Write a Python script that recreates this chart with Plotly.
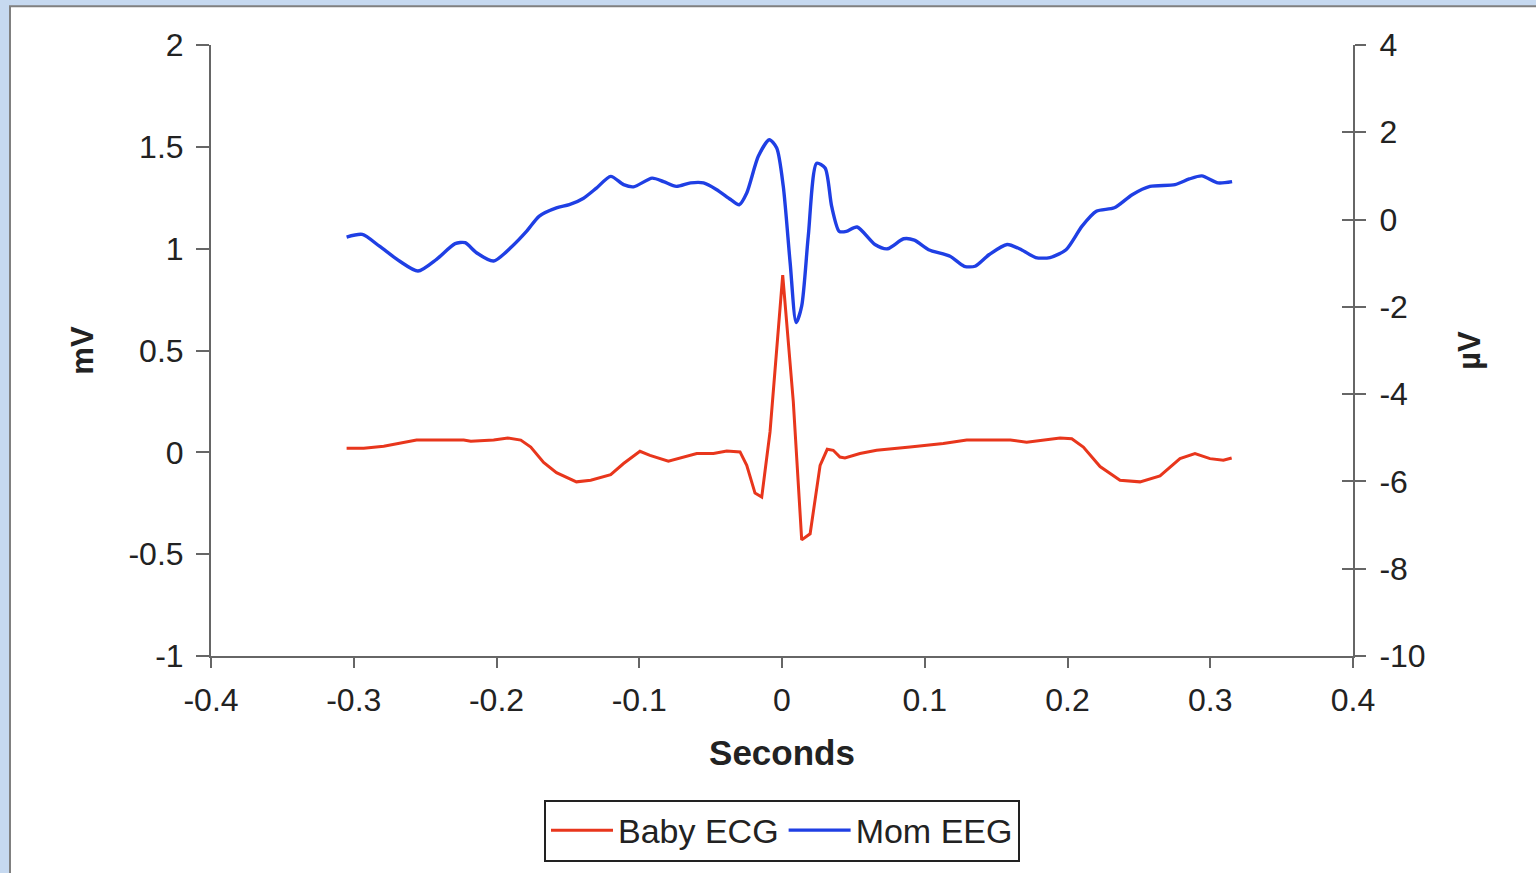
import plotly.graph_objects as go

# ---------------- data ----------------
t_ecg = [-0.305, -0.293, -0.279, -0.256, -0.223, -0.218, -0.202, -0.192, -0.183, -0.176,
         -0.167, -0.158, -0.144, -0.134, -0.120, -0.111, -0.0995, -0.0925, -0.0796, -0.069,
         -0.0597, -0.048, -0.0387, -0.0294, -0.0247, -0.0189, -0.0142, -0.0084, 0.0005, 0.0079,
         0.0138, 0.0197, 0.0267, 0.0317, 0.0359, 0.0406, 0.0441, 0.0546, 0.0663, 0.0897,
         0.113, 0.1294, 0.16, 0.1714, 0.183, 0.1948, 0.203, 0.2111, 0.2228, 0.2368,
         0.2508, 0.2648, 0.2788, 0.2893, 0.2998, 0.3092, 0.315]
baby_ecg = [0.02, 0.02, 0.03, 0.06, 0.06, 0.054, 0.06, 0.07, 0.06, 0.026,
            -0.05, -0.10, -0.145, -0.137, -0.11, -0.055, 0.005, -0.015, -0.044, -0.023,
            -0.006, -0.006, 0.007, 0.002, -0.064, -0.20, -0.22, 0.10, 0.87, 0.25,
            -0.43, -0.40, -0.064, 0.015, 0.01, -0.023, -0.028, -0.006, 0.01, 0.026,
            0.043, 0.06, 0.06, 0.05, 0.06, 0.07, 0.067, 0.026, -0.07, -0.137,
            -0.145, -0.116, -0.031, -0.006, -0.031, -0.039, -0.028]

t_eeg = [-0.305, -0.294, -0.282, -0.268, -0.255, -0.242, -0.229, -0.222, -0.214, -0.202,
         -0.189, -0.179, -0.170, -0.158, -0.149, -0.139, -0.130, -0.120, -0.111, -0.104,
         -0.091, -0.083, -0.074, -0.064, -0.055, -0.046, -0.036, -0.030, -0.0247, -0.0166,
         -0.0089, -0.0037, 0.0009, 0.0057, 0.0099, 0.0138, 0.0184, 0.0243, 0.0302, 0.0348,
         0.0401, 0.0451, 0.0526, 0.0651, 0.0739, 0.0852, 0.0927, 0.1027, 0.1177, 0.1277,
         0.1352, 0.1452, 0.1577, 0.1677, 0.1777, 0.1877, 0.199, 0.2102, 0.2202, 0.2328,
         0.2453, 0.2578, 0.2753, 0.2853, 0.2941, 0.3054, 0.3153]
mom_eeg = [-0.40, -0.34, -0.61, -0.95, -1.18, -0.91, -0.55, -0.53, -0.76, -0.95,
           -0.61, -0.27, 0.08, 0.27, 0.34, 0.49, 0.72, 0.99, 0.80, 0.75,
           0.95, 0.87, 0.76, 0.84, 0.84, 0.69, 0.46, 0.34, 0.61, 1.45,
           1.83, 1.64, 0.76, -0.99, -2.36, -1.98, -0.38, 1.29, 1.18, 0.30,
           -0.27, -0.27, -0.17, -0.57, -0.67, -0.44, -0.47, -0.69, -0.84, -1.07,
           -1.07, -0.80, -0.57, -0.69, -0.87, -0.87, -0.69, -0.15, 0.19, 0.27,
           0.57, 0.76, 0.80, 0.93, 1.00, 0.84, 0.87]

x_ticks = [-0.4, -0.3, -0.2, -0.1, 0, 0.1, 0.2, 0.3, 0.4]
x_ticklabels = ["-0.4", "-0.3", "-0.2", "-0.1", "0", "0.1", "0.2", "0.3", "0.4"]
y_ticks = [-1, -0.5, 0, 0.5, 1, 1.5, 2]
y_ticklabels = ["-1", "-0.5", "0", "0.5", "1", "1.5", "2"]
y2_ticks = [-10, -8, -6, -4, -2, 0, 2, 4]
y2_ticklabels = ["-10", "-8", "-6", "-4", "-2", "0", "2", "4"]

# ---------------- style ----------------
RED = "#E8361C"
BLUE = "#1F3FE4"
AXIS = "#666666"
TXT = "#222222"
FONT = "Liberation Sans, Arial, sans-serif"
BG = "#C6D9F0"

W, H = 1536, 873
ML, MR, MT, MB = 211, 183, 45, 215
PW = W - ML - MR
PH = H - MT - MB

fig = go.Figure()
fig.add_trace(go.Scatter(x=t_ecg, y=baby_ecg, name="Baby ECG", mode="lines",
                         line=dict(color=RED, width=3), yaxis="y"))
fig.add_trace(go.Scatter(x=t_eeg, y=mom_eeg, name="Mom EEG", mode="lines",
                         line=dict(color=BLUE, width=3.4, shape="spline", smoothing=0.7),
                         yaxis="y2"))
# helper (empty) trace so the inner half of the right-axis cross ticks is drawn
fig.add_trace(go.Scatter(x=[None], y=[None], yaxis="y3", showlegend=False,
                         hoverinfo="skip"))

fig.update_layout(
    width=W, height=H,
    margin=dict(l=ML, r=MR, t=MT, b=MB, pad=0),
    paper_bgcolor=BG,
    plot_bgcolor="white",
    font=dict(family=FONT, color=TXT, size=32),
    showlegend=True,
    legend=dict(orientation="h", x=0.5, xanchor="center",
                y=(MT + PH - 802) / PH, yanchor="top",
                bordercolor="#222222", borderwidth=2, bgcolor="white",
                font=dict(size=34, family=FONT, color=TXT),
                itemwidth=62, tracegroupgap=0),
    xaxis=dict(range=[-0.4, 0.4], tickvals=x_ticks, ticktext=x_ticklabels,
               showline=True, linecolor=AXIS, linewidth=2,
               ticks="outside", ticklen=10, tickwidth=2, tickcolor=AXIS,
               showgrid=False, zeroline=False, ticklabelstandoff=5,
               tickfont=dict(size=32),
               title=dict(text="<b>Seconds</b>", font=dict(size=35), standoff=23)),
    yaxis=dict(range=[-1, 2], tickvals=y_ticks, ticktext=y_ticklabels,
               showline=True, linecolor=AXIS, linewidth=2,
               ticks="outside", ticklen=13, tickwidth=2, tickcolor=AXIS,
               showgrid=False, zeroline=False, ticklabelstandoff=6,
               tickfont=dict(size=32),
               title=dict(text="<b>mV</b>", font=dict(size=31), standoff=26)),
    yaxis2=dict(range=[-10, 4], tickvals=y2_ticks, ticktext=y2_ticklabels,
                overlaying="y", side="right", anchor="x",
                showline=True, linecolor=AXIS, linewidth=2,
                ticks="outside", ticklen=11, tickwidth=2, tickcolor=AXIS,
                showgrid=False, zeroline=False, ticklabelstandoff=7,
                tickfont=dict(size=32),
                title=dict(text="<b>µV</b>", font=dict(size=31), standoff=34)),
    yaxis3=dict(range=[-10, 4], tickvals=y2_ticks, overlaying="y", side="right",
                anchor="x", showline=False, showticklabels=False,
                ticks="inside", ticklen=11, tickwidth=2, tickcolor=AXIS,
                showgrid=False, zeroline=False),
    shapes=[dict(type="rect", xref="paper", yref="paper",
                 x0=(10 - ML) / PW, x1=(W + 20 - ML) / PW,
                 y0=(MT + PH - (H + 20)) / PH, y1=(MT + PH - 6) / PH,
                 fillcolor="white", line=dict(color="#808080", width=2),
                 layer="below")],
)

fig.write_html("out.html",
               config={"displayModeBar": False},
               post_script="document.body.style.margin='0px';"
                           "document.body.style.background='" + BG + "';"
                           "document.body.style.overflow='hidden';")
